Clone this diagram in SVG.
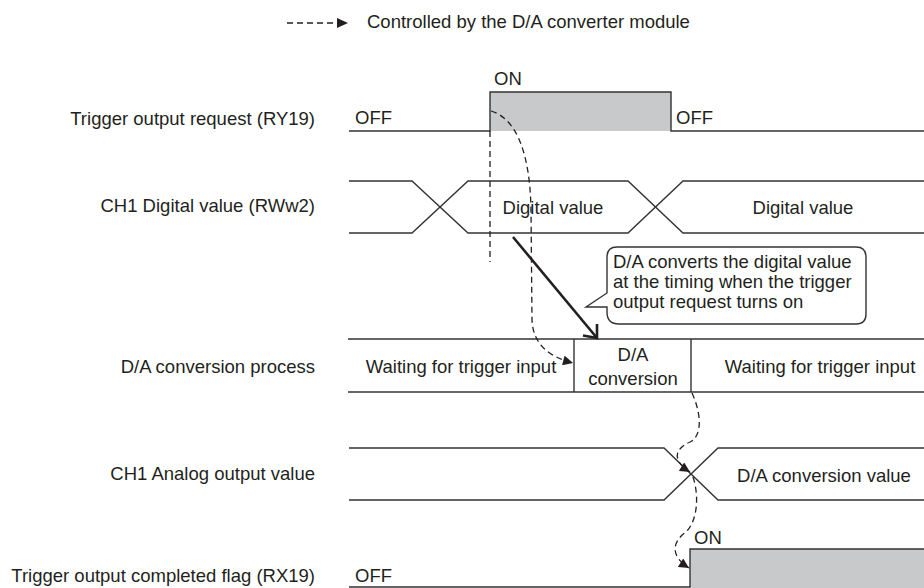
<svg xmlns="http://www.w3.org/2000/svg" width="924" height="588" viewBox="0 0 924 588">
<defs>
<style>
text{font-family:"Liberation Sans",Arial,sans-serif;font-size:18.5px;fill:#231f20}
.m{text-anchor:middle}
.e{text-anchor:end}
.ln{fill:none;stroke:#333;stroke-width:1.4}
.on{fill:#c8c9ca;stroke:none}
.dash{fill:none;stroke:#231f20;stroke-width:1.3;stroke-dasharray:6 4}
</style>
<marker id="tri" viewBox="0 0 10 10" refX="10" refY="5" markerWidth="11" markerHeight="10" markerUnits="userSpaceOnUse" orient="auto">
<path d="M0,0 L10,5 L0,10 Z" fill="#231f20"/>
</marker>
</defs>
<rect width="924" height="588" fill="#fff"/>

<g id="legend">
<line x1="287" y1="23" x2="337" y2="23" class="dash"/>
<path d="M337,18 L348,23 L337,28 Z" fill="#231f20"/>
<text x="367" y="28">Controlled by the D/A converter module</text>
</g>

<g id="labels">
<text class="e" x="315" y="125">Trigger output request (RY19)</text>
<text class="e" x="315" y="212">CH1 Digital value (RWw2)</text>
<text class="e" x="315" y="373">D/A conversion process</text>
<text class="e" x="315" y="480">CH1 Analog output value</text>
<text class="e" x="315" y="582">Trigger output completed flag (RX19)</text>
</g>

<g id="trigger-request">
<rect class="on" x="490" y="92" width="181" height="39"/>
<polyline class="ln" points="349,131 490,131 490,92 671,92 671,131 924,131"/>
<text x="355" y="124">OFF</text>
<text x="494" y="85">ON</text>
<text x="676" y="124">OFF</text>
</g>

<g id="digital-value">
<polyline class="ln" points="349,181 412,181 468,233 628,233 683,181 924,181"/>
<polyline class="ln" points="349,233 412,233 468,181 628,181 683,233 924,233"/>
<text class="m" x="553" y="214">Digital value</text>
<text class="m" x="803" y="214">Digital value</text>
</g>

<g id="conversion-process">
<line class="ln" x1="348" y1="339" x2="924" y2="339"/>
<line class="ln" x1="348" y1="392" x2="924" y2="392"/>
<line class="ln" x1="574" y1="339" x2="574" y2="392"/>
<line class="ln" x1="691" y1="339" x2="691" y2="392"/>
<text class="m" x="461" y="373">Waiting for trigger input</text>
<text class="m" x="633" y="361">D/A</text>
<text class="m" x="633" y="385">conversion</text>
<text class="m" x="820" y="373">Waiting for trigger input</text>
</g>

<g id="analog-output">
<polyline class="ln" points="349,448 664,448 718,500 924,500"/>
<polyline class="ln" points="349,500 664,500 718,448 924,448"/>
<text class="m" x="824" y="482">D/A conversion value</text>
</g>

<g id="completed-flag">
<rect class="on" x="690" y="549" width="236" height="40"/>
<polyline class="ln" points="349,587 690,587 690,549 926,549"/>
<text x="355" y="582">OFF</text>
<text x="694" y="544">ON</text>
</g>

<g id="note">
<path class="ln" d="M617,247 L856,247 Q866,247 866,257 L866,314 Q866,324 856,324 L619,324 Q607,324 607,312 L607,307 L586,307 L607,293 L607,257 Q607,247 617,247 Z" fill="#fff"/>
<text x="613" y="268">D/A converts the digital value</text>
<text x="613" y="288">at the timing when the trigger</text>
<text x="613" y="308">output request turns on</text>
</g>

<g id="connectors">
<line class="dash" x1="490" y1="131" x2="490" y2="262"/>
<path class="dash" d="M491,111 C515,118 530,150 531,210 L532,320 C533,345 550,357 573,363" marker-end="url(#tri)"/>
<line x1="513" y1="237" x2="597" y2="338" stroke="#231f20" stroke-width="2.6"/>
<polyline points="597,324 597,338 583,335.5" fill="none" stroke="#231f20" stroke-width="2.6"/>
<path class="dash" d="M692,393 C700,410 704,435 690,442 C672,450 674,462 690,472" marker-end="url(#tri)"/>
<path class="dash" d="M693,477 C699,495 698,520 686,532 C672,542 670,556 689,568" marker-end="url(#tri)"/>
</g>
</svg>
